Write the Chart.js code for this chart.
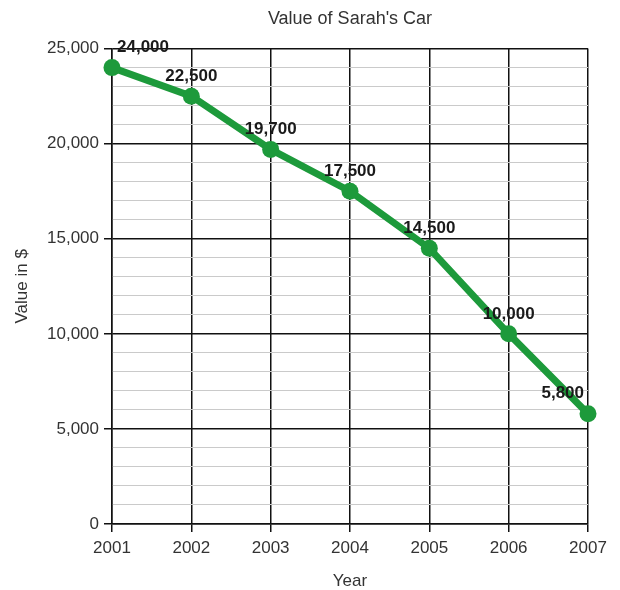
<!DOCTYPE html>
<html>
<head>
<meta charset="utf-8">
<title>Value of Sarah's Car</title>
<script src="https://cdn.jsdelivr.net/npm/chart.js@4.4.1/dist/chart.umd.min.js"></script>
<style>
    html, body { margin: 0; padding: 0; background: #fff; }
    #wrap { width: 620px; height: 590px; }
</style>
</head>
<body>
<div id="wrap"><canvas id="carChart" width="620" height="590"></canvas></div>
<script>
// chart data
const years = ['2001', '2002', '2003', '2004', '2005', '2006', '2007'];
const carValues = [24000, 22500, 19700, 17500, 14500, 10000, 5800];
const yMin = 0;
const yMax = 25000;
const minorStep = 1000;
const majorStep = 5000;

const FONT = "'Liberation Sans', Arial, sans-serif";
const GREEN = '#1d9a3b';

// draws the bold value labels above each point
const valueLabels = {
    id: 'valueLabels',
    afterDatasetsDraw(chart) {
        const { ctx } = chart;
        const meta = chart.getDatasetMeta(0);
        const last = meta.data.length - 1;
        ctx.save();
        ctx.font = 'bold 17px ' + FONT;
        ctx.fillStyle = '#1a1a1a';
        ctx.textBaseline = 'middle';
        meta.data.forEach((pt, i) => {
            const text = carValues[i].toLocaleString('en-US');
            let x = pt.x;
            if (i === 0) {
                ctx.textAlign = 'left';
                x = pt.x + 5;
            } else if (i === last) {
                ctx.textAlign = 'right';
                x = pt.x - 4;
            } else {
                ctx.textAlign = 'center';
            }
            ctx.fillText(text, x, pt.y - 20);
        });
        ctx.restore();
    }
};

const isMajor = (v) => v % majorStep === 0;

new Chart(document.getElementById('carChart'), {
    type: 'line',
    data: {
        labels: years,
        datasets: [{
            label: 'Value in $',
            data: carValues,
            borderColor: GREEN,
            backgroundColor: GREEN,
            borderWidth: 7,
            pointRadius: 8.5,
            pointBackgroundColor: GREEN,
            pointBorderColor: GREEN,
            pointBorderWidth: 0,
            tension: 0,
            clip: false
        }]
    },
    options: {
        responsive: false,
        animation: false,
        layout: { padding: { left: 0, right: 32, top: 0, bottom: 0 } },
        plugins: {
            legend: { display: false },
            tooltip: { enabled: false },
            title: {
                display: true,
                text: "Value of Sarah's Car",
                fullSize: false,
                color: '#333',
                font: { family: FONT, size: 18, weight: 'normal' },
                padding: { top: 8, bottom: 19 }
            }
        },
        scales: {
            x: {
                type: 'category',
                offset: false,
                afterFit(scale) { scale.height = 66; },
                grid: { color: '#111', lineWidth: 1.5, tickLength: 8, tickColor: '#111' },
                border: { color: '#111', width: 1.5 },
                ticks: {
                    color: '#333',
                    padding: 6,
                    maxRotation: 0,
                    font: { family: FONT, size: 17 }
                },
                title: {
                    display: true,
                    text: 'Year',
                    color: '#333',
                    font: { family: FONT, size: 17, lineHeight: 1.0 },
                    padding: { top: 0, bottom: 0 }
                }
            },
            y: {
                min: yMin,
                max: yMax,
                afterFit(scale) { scale.width = 112; },
                grid: {
                    color: (c) => isMajor(c.tick.value) ? '#111' : '#cacaca',
                    lineWidth: (c) => isMajor(c.tick.value) ? 1.5 : 1,
                    tickLength: 8,
                    tickColor: (c) => isMajor(c.tick.value) ? '#111' : 'rgba(0,0,0,0)'
                },
                border: { color: '#111', width: 1.5 },
                ticks: {
                    stepSize: minorStep,
                    maxTicksLimit: 100,
                    autoSkip: false,
                    color: '#333',
                    padding: 5,
                    font: { family: FONT, size: 17 },
                    callback: (v) => isMajor(v) ? v.toLocaleString('en-US') : ''
                },
                title: {
                    display: true,
                    text: 'Value in $',
                    color: '#333',
                    font: { family: FONT, size: 17 },
                    padding: { top: 12, bottom: 0 }
                }
            }
        }
    },
    plugins: [valueLabels]
});
</script>
</body>
</html>
